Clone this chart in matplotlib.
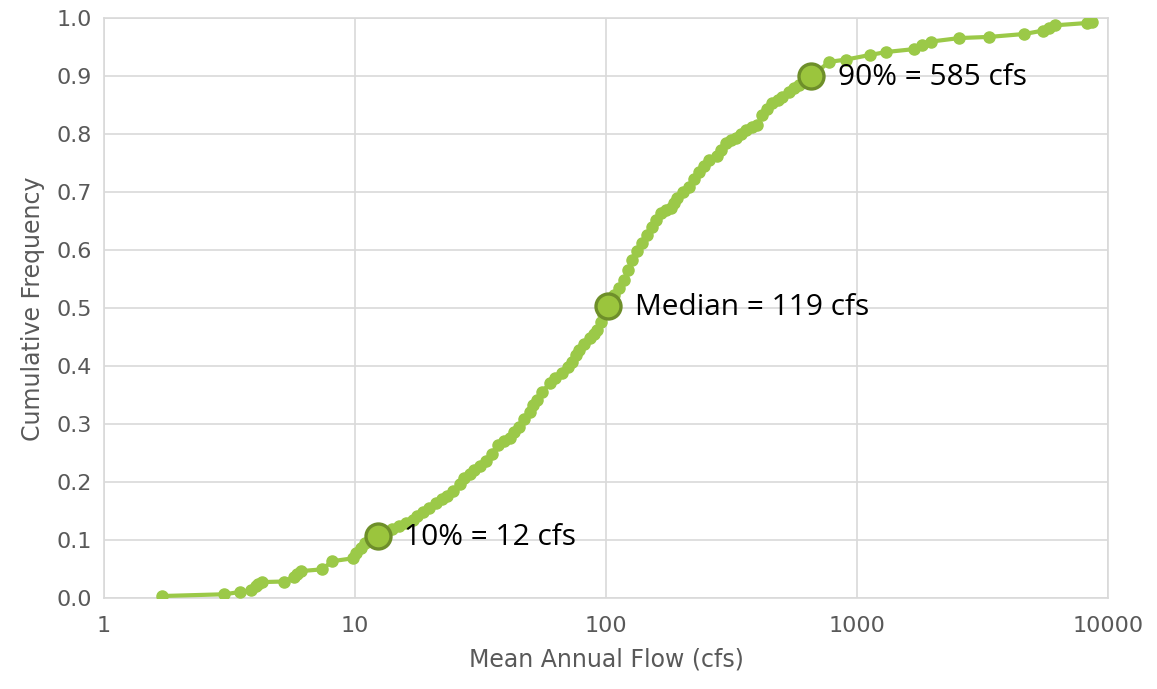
import matplotlib
matplotlib.use("Agg")
import matplotlib.pyplot as plt
from matplotlib.ticker import FixedLocator, FuncFormatter

# cumulative frequency curve
flow = [1.71, 3.02, 3.49, 3.86, 4.04, 4.12, 4.27, 5.19, 5.69, 5.85, 6.11, 7.40, 8.11,
        9.80, 10.1, 10.6, 11.0, 12.3, 13.2, 14.1, 15.0, 16.0, 17.0, 17.7, 18.6, 19.8,
        21.1, 22.3, 23.2, 24.5, 26.1, 27.3, 28.6, 29.9, 31.6, 33.4, 35.0, 37.0, 39.1,
        41.3, 43.2, 45.2, 47.3, 49.6, 51.4, 52.9, 55.8, 59.6, 62.9, 67.1, 70.3, 73.5,
        76.3, 78.4, 82.1, 86.0, 89.2, 92.5, 95.1, 97.7, 102.3, 108.1, 113.2, 118.5,
        122.9, 127.5, 133.5, 139.8, 146.3, 153.2, 158.9, 166.4, 174.2, 182.4, 187.5,
        192.7, 203.6, 215.1, 225.2, 235.8, 246.9, 258.5, 278.1, 288.5, 302.1, 316.2,
        331.1, 346.6, 362.9, 383.4, 401.4, 420.3, 440.0, 460.7, 482.4, 505.0, 538.4,
        563.7, 590.2, 658.6, 777, 908, 1132, 1311, 1695, 1824, 1981, 2561, 3373, 4648,
        5534, 5847, 6177, 8286, 8675]
freq = [0.004, 0.007, 0.011, 0.014, 0.021, 0.025, 0.028, 0.029, 0.036, 0.042, 0.047,
        0.050, 0.064, 0.069, 0.078, 0.086, 0.095, 0.107, 0.114, 0.120, 0.124, 0.130,
        0.135, 0.142, 0.149, 0.156, 0.164, 0.171, 0.176, 0.185, 0.197, 0.207, 0.214,
        0.221, 0.228, 0.236, 0.249, 0.264, 0.271, 0.276, 0.287, 0.296, 0.309, 0.322,
        0.333, 0.342, 0.356, 0.371, 0.380, 0.388, 0.399, 0.408, 0.419, 0.428, 0.438,
        0.449, 0.456, 0.463, 0.476, 0.490, 0.504, 0.523, 0.535, 0.549, 0.566, 0.583,
        0.599, 0.613, 0.626, 0.640, 0.652, 0.664, 0.670, 0.673, 0.682, 0.690, 0.701,
        0.709, 0.723, 0.735, 0.745, 0.756, 0.762, 0.773, 0.785, 0.791, 0.794, 0.801,
        0.808, 0.813, 0.816, 0.833, 0.844, 0.854, 0.859, 0.864, 0.873, 0.880, 0.885,
        0.9005, 0.925, 0.929, 0.937, 0.942, 0.947, 0.954, 0.960, 0.966, 0.968, 0.973,
        0.979, 0.983, 0.988, 0.992, 0.994]

# highlighted points
key_flow = [12.3, 102.3, 658.6]
key_freq = [0.107, 0.504, 0.9005]
key_text = ["10% = 12 cfs", "Median = 119 cfs", "90% = 585 cfs"]

x_ticks = [1, 10, 100, 1000, 10000]
y_ticks = [i / 10 for i in range(11)]

green = "#9BC948"
grid = "#D9D9D9"
gray = "#595959"

fig = plt.figure(figsize=(11.57, 6.89), dpi=100)
ax = fig.add_axes([0.0899, 0.1316, 0.8677, 0.8418])

ax.plot(flow, freq, color=green, lw=3, marker="o", ms=8, mec=green, mfc=green, zorder=3)
ax.plot(key_flow, key_freq, ls="none", marker="o", ms=18, mfc="#9BC53D", mec="#6E8F2A",
        mew=2.4, zorder=4)
for xv, yv, t in zip(key_flow, key_freq, key_text):
    ax.annotate(t, (xv, yv), xytext=(19, -1), textcoords="offset points", va="center",
                ha="left", fontsize=21.5, family="Open Sans", color="black", zorder=5)

ax.set_xscale("log")
ax.set_xlim(1, 10000)
ax.set_ylim(0, 1.0)
ax.xaxis.set_major_locator(FixedLocator(x_ticks))
ax.xaxis.set_minor_locator(FixedLocator([]))
ax.xaxis.set_major_formatter(FuncFormatter(lambda v, p: f"{v:g}"))
ax.set_yticks(y_ticks)
ax.yaxis.set_major_formatter(FuncFormatter(lambda v, p: f"{v:.1f}"))

ax.grid(True, color=grid, lw=1.2)
ax.set_axisbelow(True)
for s in ax.spines.values():
    s.set_color(grid)
    s.set_linewidth(1.2)
ax.tick_params(length=0, labelsize=16, labelcolor=gray, pad=9)
ax.tick_params(axis="x", pad=13)

ax.set_xlabel("Mean Annual Flow (cfs)", fontsize=17, color=gray, labelpad=8)
ax.set_ylabel("Cumulative Frequency", fontsize=17, color=gray, labelpad=8)

fig.savefig("out.png", dpi=100)
